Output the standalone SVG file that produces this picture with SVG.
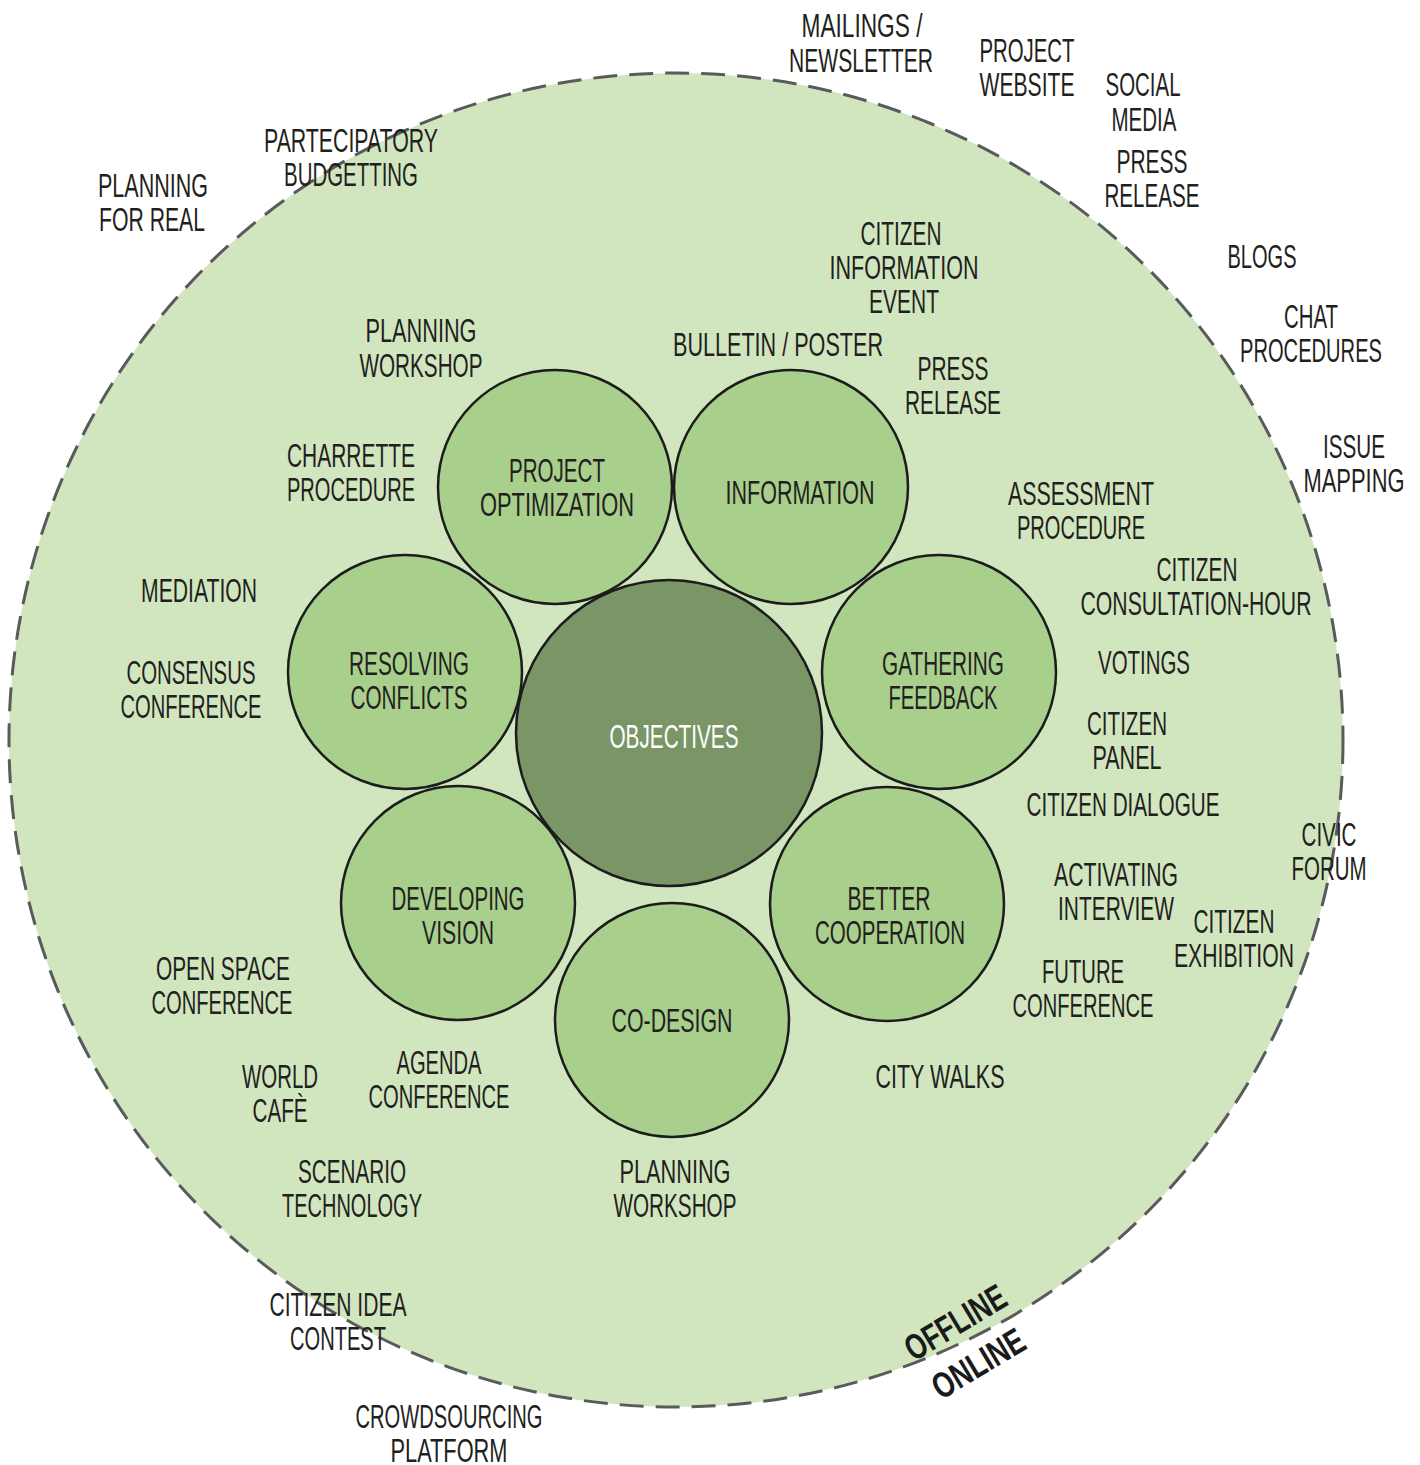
<svg xmlns="http://www.w3.org/2000/svg" width="1420" height="1465" viewBox="0 0 1420 1465">
<style>
.bg{fill:#ffffff}
.outer{fill:#d1e6bf;stroke:#5a5a5a;stroke-width:3;stroke-dasharray:24 12}
.petal{fill:#a8cf8c;stroke:#1c1c1c;stroke-width:2.5}
.core{fill:#7a9566;stroke:#1c1c1c;stroke-width:2.5}
text{font-family:"Liberation Sans","DejaVu Sans",sans-serif;font-size:33px;fill:#231f20;text-anchor:middle}
.w{fill:#ffffff}
.b{font-weight:bold;font-size:36px;fill:#1a1a1a}
</style>
<rect class="bg" x="0" y="0" width="1420" height="1465"/>
<g id="offline-area"><circle class="outer" cx="676" cy="740" r="667"/></g>
<g id="connectors"/>
<g id="project-optimization"><circle class="petal" cx="555" cy="487" r="117"/>
<text x="557" y="482" textLength="96" lengthAdjust="spacingAndGlyphs">PROJECT</text>
<text x="557" y="516" textLength="154" lengthAdjust="spacingAndGlyphs">OPTIMIZATION</text></g>
<g id="information"><circle class="petal" cx="791" cy="487" r="117"/>
<text x="800" y="504" textLength="149" lengthAdjust="spacingAndGlyphs">INFORMATION</text></g>
<g id="gathering-feedback"><circle class="petal" cx="939" cy="672" r="117"/>
<text x="943" y="675" textLength="122" lengthAdjust="spacingAndGlyphs">GATHERING</text>
<text x="943" y="709" textLength="109" lengthAdjust="spacingAndGlyphs">FEEDBACK</text></g>
<g id="better-cooperation"><circle class="petal" cx="887" cy="904" r="117"/>
<text x="889" y="910" textLength="83" lengthAdjust="spacingAndGlyphs">BETTER</text>
<text x="890" y="944" textLength="150" lengthAdjust="spacingAndGlyphs">COOPERATION</text></g>
<g id="co-design"><circle class="petal" cx="672" cy="1020" r="117"/>
<text x="672" y="1032" textLength="121" lengthAdjust="spacingAndGlyphs">CO-DESIGN</text></g>
<g id="developing-vision"><circle class="petal" cx="458" cy="903" r="117"/>
<text x="458" y="910" textLength="133" lengthAdjust="spacingAndGlyphs">DEVELOPING</text>
<text x="458" y="944" textLength="72" lengthAdjust="spacingAndGlyphs">VISION</text></g>
<g id="resolving-conflicts"><circle class="petal" cx="405" cy="672" r="117"/>
<text x="409" y="675" textLength="120" lengthAdjust="spacingAndGlyphs">RESOLVING</text>
<text x="409" y="709" textLength="117" lengthAdjust="spacingAndGlyphs">CONFLICTS</text></g>
<g id="objectives"><circle class="core" cx="669" cy="733" r="153"/>
<text class="w" x="674" y="748" textLength="129" lengthAdjust="spacingAndGlyphs">OBJECTIVES</text></g>
<g id="labels">
<g id="l-mailings"><text x="862" y="37" textLength="121" lengthAdjust="spacingAndGlyphs">MAILINGS /</text><text x="861" y="72" textLength="144" lengthAdjust="spacingAndGlyphs">NEWSLETTER</text></g>
<g id="l-website"><text x="1027" y="62" textLength="95" lengthAdjust="spacingAndGlyphs">PROJECT</text><text x="1027" y="96" textLength="95" lengthAdjust="spacingAndGlyphs">WEBSITE</text></g>
<g id="l-social"><text x="1143" y="96" textLength="75" lengthAdjust="spacingAndGlyphs">SOCIAL</text><text x="1144" y="131" textLength="65" lengthAdjust="spacingAndGlyphs">MEDIA</text></g>
<g id="l-press1"><text x="1152" y="173" textLength="71" lengthAdjust="spacingAndGlyphs">PRESS</text><text x="1152" y="207" textLength="95" lengthAdjust="spacingAndGlyphs">RELEASE</text></g>
<g id="l-blogs"><text x="1262" y="268" textLength="69" lengthAdjust="spacingAndGlyphs">BLOGS</text></g>
<g id="l-chat"><text x="1311" y="328" textLength="54" lengthAdjust="spacingAndGlyphs">CHAT</text><text x="1311" y="362" textLength="142" lengthAdjust="spacingAndGlyphs">PROCEDURES</text></g>
<g id="l-issue"><text x="1354" y="458" textLength="62" lengthAdjust="spacingAndGlyphs">ISSUE</text><text x="1354" y="492" textLength="101" lengthAdjust="spacingAndGlyphs">MAPPING</text></g>
<g id="l-budget"><text x="351" y="152" textLength="174" lengthAdjust="spacingAndGlyphs">PARTECIPATORY</text><text x="351" y="186" textLength="134" lengthAdjust="spacingAndGlyphs">BUDGETTING</text></g>
<g id="l-pfr"><text x="153" y="197" textLength="110" lengthAdjust="spacingAndGlyphs">PLANNING</text><text x="152" y="231" textLength="106" lengthAdjust="spacingAndGlyphs">FOR REAL</text></g>
<g id="l-cie"><text x="901" y="245" textLength="81" lengthAdjust="spacingAndGlyphs">CITIZEN</text><text x="904" y="279" textLength="149" lengthAdjust="spacingAndGlyphs">INFORMATION</text><text x="904" y="313" textLength="70" lengthAdjust="spacingAndGlyphs">EVENT</text></g>
<g id="l-bulletin"><text x="778" y="356" textLength="210" lengthAdjust="spacingAndGlyphs">BULLETIN / POSTER</text></g>
<g id="l-press2"><text x="953" y="380" textLength="71" lengthAdjust="spacingAndGlyphs">PRESS</text><text x="953" y="414" textLength="96" lengthAdjust="spacingAndGlyphs">RELEASE</text></g>
<g id="l-pw1"><text x="421" y="342" textLength="111" lengthAdjust="spacingAndGlyphs">PLANNING</text><text x="421" y="377" textLength="123" lengthAdjust="spacingAndGlyphs">WORKSHOP</text></g>
<g id="l-charrette"><text x="351" y="467" textLength="128" lengthAdjust="spacingAndGlyphs">CHARRETTE</text><text x="351" y="501" textLength="128" lengthAdjust="spacingAndGlyphs">PROCEDURE</text></g>
<g id="l-assess"><text x="1081" y="505" textLength="146" lengthAdjust="spacingAndGlyphs">ASSESSMENT</text><text x="1081" y="539" textLength="128" lengthAdjust="spacingAndGlyphs">PROCEDURE</text></g>
<g id="l-cch"><text x="1197" y="581" textLength="81" lengthAdjust="spacingAndGlyphs">CITIZEN</text><text x="1196" y="615" textLength="231" lengthAdjust="spacingAndGlyphs">CONSULTATION-HOUR</text></g>
<g id="l-mediation"><text x="199" y="602" textLength="116" lengthAdjust="spacingAndGlyphs">MEDIATION</text></g>
<g id="l-consensus"><text x="191" y="684" textLength="129" lengthAdjust="spacingAndGlyphs">CONSENSUS</text><text x="191" y="718" textLength="141" lengthAdjust="spacingAndGlyphs">CONFERENCE</text></g>
<g id="l-votings"><text x="1144" y="674" textLength="92" lengthAdjust="spacingAndGlyphs">VOTINGS</text></g>
<g id="l-panel"><text x="1127" y="735" textLength="80" lengthAdjust="spacingAndGlyphs">CITIZEN</text><text x="1127" y="769" textLength="69" lengthAdjust="spacingAndGlyphs">PANEL</text></g>
<g id="l-dialogue"><text x="1123" y="816" textLength="193" lengthAdjust="spacingAndGlyphs">CITIZEN DIALOGUE</text></g>
<g id="l-civic"><text x="1329" y="846" textLength="55" lengthAdjust="spacingAndGlyphs">CIVIC</text><text x="1329" y="880" textLength="75" lengthAdjust="spacingAndGlyphs">FORUM</text></g>
<g id="l-activating"><text x="1116" y="886" textLength="124" lengthAdjust="spacingAndGlyphs">ACTIVATING</text><text x="1116" y="920" textLength="116" lengthAdjust="spacingAndGlyphs">INTERVIEW</text></g>
<g id="l-exhibition"><text x="1234" y="933" textLength="81" lengthAdjust="spacingAndGlyphs">CITIZEN</text><text x="1234" y="967" textLength="120" lengthAdjust="spacingAndGlyphs">EXHIBITION</text></g>
<g id="l-openspace"><text x="223" y="980" textLength="134" lengthAdjust="spacingAndGlyphs">OPEN SPACE</text><text x="222" y="1014" textLength="141" lengthAdjust="spacingAndGlyphs">CONFERENCE</text></g>
<g id="l-future"><text x="1083" y="983" textLength="82" lengthAdjust="spacingAndGlyphs">FUTURE</text><text x="1083" y="1017" textLength="141" lengthAdjust="spacingAndGlyphs">CONFERENCE</text></g>
<g id="l-worldcafe"><text x="280" y="1088" textLength="76" lengthAdjust="spacingAndGlyphs">WORLD</text><text x="280" y="1122" textLength="55" lengthAdjust="spacingAndGlyphs">CAFÈ</text></g>
<g id="l-agenda"><text x="439" y="1074" textLength="85" lengthAdjust="spacingAndGlyphs">AGENDA</text><text x="439" y="1108" textLength="141" lengthAdjust="spacingAndGlyphs">CONFERENCE</text></g>
<g id="l-citywalks"><text x="940" y="1088" textLength="129" lengthAdjust="spacingAndGlyphs">CITY WALKS</text></g>
<g id="l-scenario"><text x="352" y="1183" textLength="108" lengthAdjust="spacingAndGlyphs">SCENARIO</text><text x="352" y="1217" textLength="140" lengthAdjust="spacingAndGlyphs">TECHNOLOGY</text></g>
<g id="l-pw2"><text x="675" y="1183" textLength="111" lengthAdjust="spacingAndGlyphs">PLANNING</text><text x="675" y="1217" textLength="123" lengthAdjust="spacingAndGlyphs">WORKSHOP</text></g>
<g id="l-idea"><text x="338" y="1316" textLength="137" lengthAdjust="spacingAndGlyphs">CITIZEN IDEA</text><text x="338" y="1350" textLength="96" lengthAdjust="spacingAndGlyphs">CONTEST</text></g>
<g id="l-crowd"><text x="449" y="1428" textLength="187" lengthAdjust="spacingAndGlyphs">CROWDSOURCING</text><text x="449" y="1462" textLength="117" lengthAdjust="spacingAndGlyphs">PLATFORM</text></g>
<g id="l-offline"><text class="b" transform="translate(955,1322) rotate(-31)" x="0" y="13" textLength="112" lengthAdjust="spacingAndGlyphs">OFFLINE</text></g>
<g id="l-online"><text class="b" transform="translate(978,1363) rotate(-31)" x="0" y="13" textLength="102" lengthAdjust="spacingAndGlyphs">ONLINE</text></g>
</g>
</svg>
